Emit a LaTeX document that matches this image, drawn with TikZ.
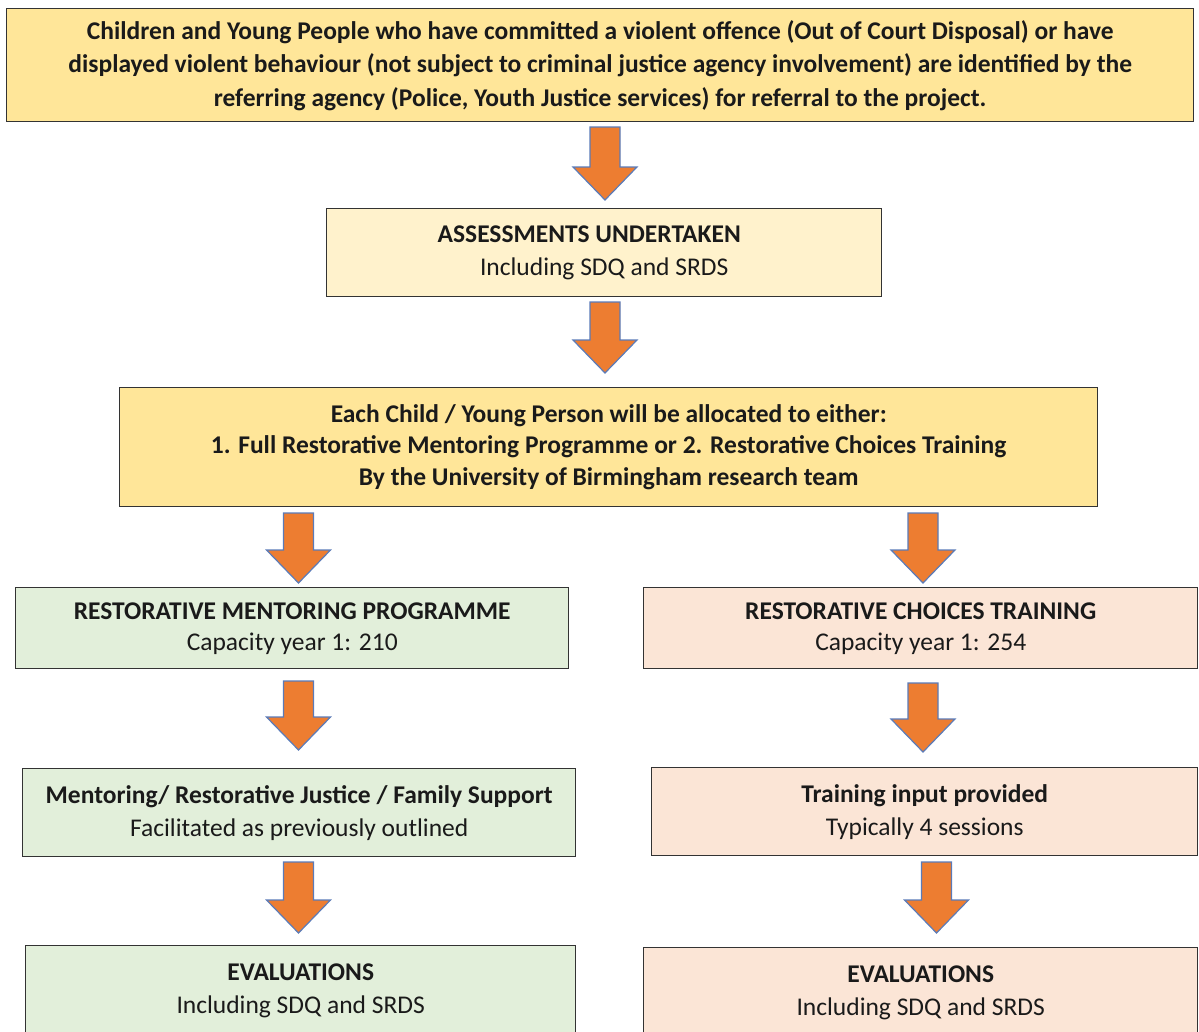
\documentclass[tikz,border=0pt]{standalone}
\usepackage{fontspec}
\setmainfont{Carlito}
\definecolor{goldfill}{HTML}{FFE699}
\definecolor{creamfill}{HTML}{FFF2CC}
\definecolor{greenfill}{HTML}{E2EFDA}
\definecolor{peachfill}{HTML}{FBE5D6}
\definecolor{arrowfill}{HTML}{ED7D31}
\definecolor{arrowline}{HTML}{5B7BB8}
\definecolor{boxline}{HTML}{333333}
\definecolor{txt}{HTML}{1A1A1A}
\newcommand{\blockarrow}[3]{% x center, y top, y bottom
  \draw[arrowshape] (#1-15,#2) -- (#1+15,#2) -- (#1+15,#3-33) -- (#1+32,#3-33)
    -- (#1,#3) -- (#1-32,#3-33) -- (#1-15,#3-33) -- cycle;}
\begin{document}
\begin{tikzpicture}[x=1pt,y=-1pt,
  box/.style={draw=boxline, line width=1.4pt, inner sep=0pt, align=center,
    text=txt, font=\fontsize{25.5}{32.5}\selectfont, anchor=north west},
  arrowshape/.style={fill=arrowfill, draw=arrowline, line width=1.2pt, line join=miter}]
\useasboundingbox (0,0) rectangle (1199,1031);
\clip (0,0) rectangle (1199,1031);
% boxes
\node[box, fill=goldfill, minimum width=1187pt, minimum height=113pt,
  font=\fontsize{25.5}{33.5}\selectfont] (top) at (6,8)
  {\textbf{Children and Young People who have committed a violent offence (Out of Court Disposal) or have}\\
   \textbf{displayed violent behaviour (not subject to criminal justice agency involvement) are identified by the}\\
   \textbf{referring agency (Police, Youth Justice services) for referral to the project.}};
\node[box, fill=creamfill, minimum width=555pt, minimum height=88pt] (assess) at (326,208)
  {\textbf{ASSESSMENTS UNDERTAKEN}\hspace*{30pt}\\ Including SDQ and SRDS};
\node[box, fill=goldfill, minimum width=978pt, minimum height=119pt,
  font=\fontsize{25.5}{31.5}\selectfont] (alloc) at (119,387)
  {\textbf{Each Child / Young Person will be allocated to either:}\\
   \textbf{1. Full Restorative Mentoring Programme or 2. Restorative Choices Training}\\
   \textbf{By the University of Birmingham research team}};
\node[box, fill=greenfill, minimum width=553pt, minimum height=81pt,
  font=\fontsize{25.5}{31}\selectfont] (rmp) at (15,587)
  {\textbf{RESTORATIVE MENTORING PROGRAMME}\\ Capacity year 1: 210};
\node[box, fill=peachfill, minimum width=554pt, minimum height=81pt,
  font=\fontsize{25.5}{31}\selectfont] (rct) at (643,587)
  {\textbf{RESTORATIVE CHOICES TRAINING}\\ Capacity year 1: 254};
\node[box, fill=greenfill, minimum width=553pt, minimum height=88pt,
  font=\fontsize{25.5}{33}\selectfont] (ment) at (22,768)
  {\textbf{Mentoring/ Restorative Justice / Family Support}\\ Facilitated as previously outlined};
\node[box, fill=peachfill, minimum width=546pt, minimum height=88pt,
  font=\fontsize{25.5}{33}\selectfont] (train) at (651,767)
  {\textbf{Training input provided}\\ Typically 4 sessions};
\node[box, fill=greenfill, minimum width=550pt, minimum height=90pt] (evall) at (25,945)
  {\textbf{EVALUATIONS}\\ Including SDQ and SRDS};
\node[box, fill=peachfill, minimum width=554pt, minimum height=90pt] (evalr) at (643,947)
  {\textbf{EVALUATIONS}\\ Including SDQ and SRDS};
% block arrows
\blockarrow{605}{127}{200}
\blockarrow{605}{302}{373}
\blockarrow{298.5}{513}{583}
\blockarrow{923}{513}{583}
\blockarrow{298.5}{681}{750}
\blockarrow{923}{683}{752}
\blockarrow{298.5}{862}{933}
\blockarrow{936.5}{862}{933}
\end{tikzpicture}
\end{document}
